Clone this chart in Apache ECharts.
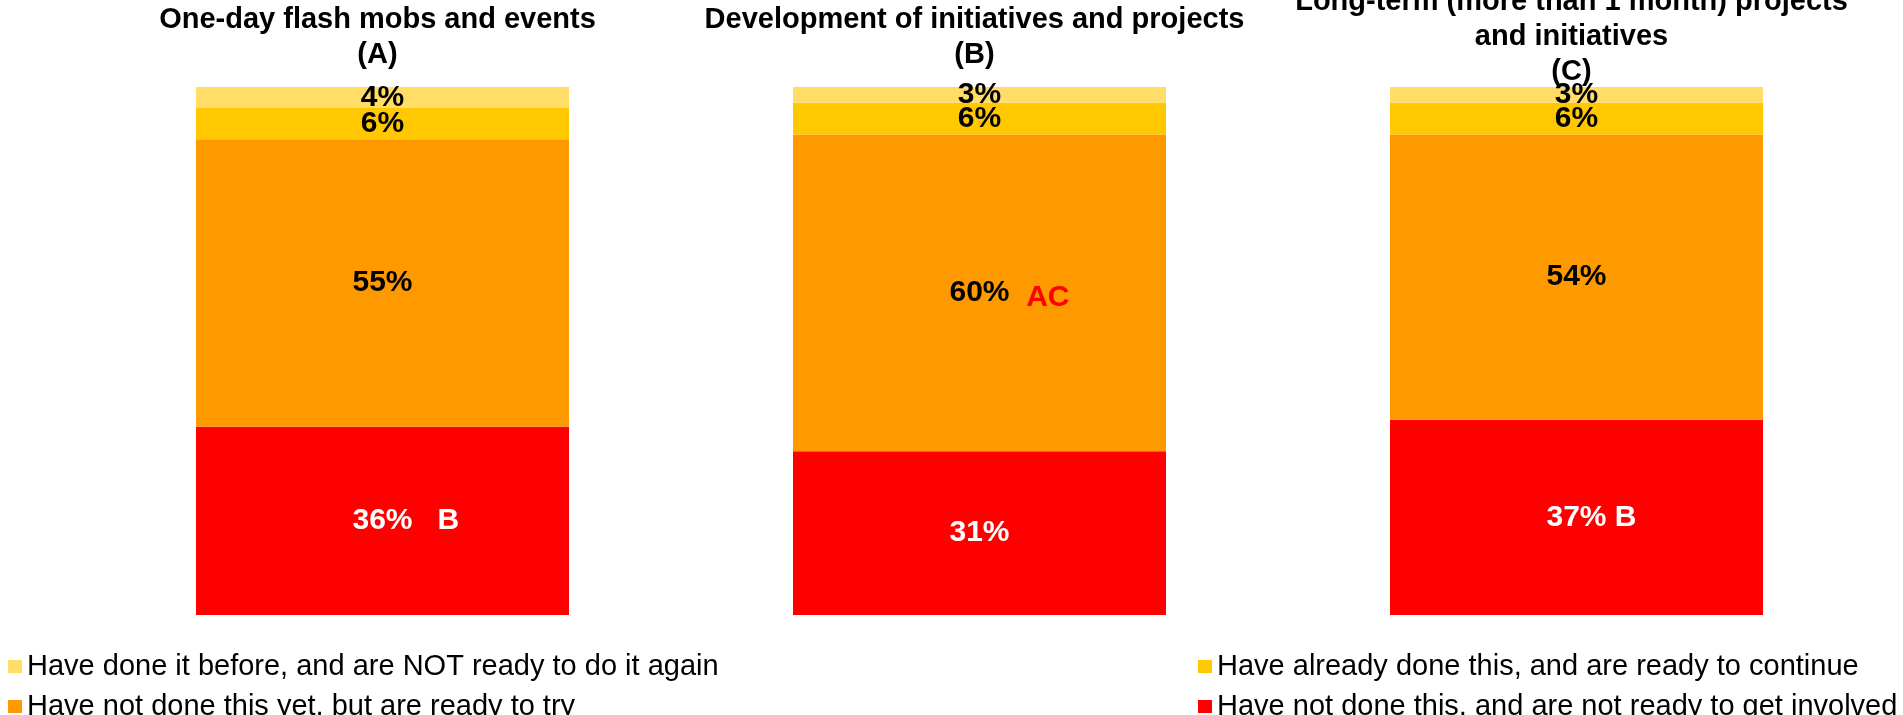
<!DOCTYPE html>
<html>
<head>
<meta charset="utf-8">
<style>
  html, body { margin: 0; padding: 0; background: #ffffff; }
  #chart { width: 1903px; height: 715px; }
</style>
<script src="https://cdn.jsdelivr.net/npm/echarts@6/dist/echarts.min.js"></script>
</head>
<body>
<div id="chart"></div>
<script>
// Survey categories (panel titles A, B, C)
const categories = [
  'One-day flash mobs and events\n(A)',
  'Development of initiatives and projects\n(B)',
  'Long-term (more than 1 month) projects\nand initiatives\n(C)'
];

// Answer groups, in stacking order from the bottom up
const seriesNames = [
  'Have not done this, and are not ready to get involved',
  'Have not done this yet, but are ready to try',
  'Have already done this, and are ready to continue',
  'Have done it before, and are NOT ready to do it again'
];

// Percentages per category
const notReady        = [36, 31, 37];
const readyToTry      = [55, 60, 54];
const readyToContinue = [6, 6, 6];
const notAgain        = [4, 3, 3];

// Significance letters shown after some values
const notReadySig   = ['   B', '', ' B'];
const readyToTrySig = ['', '  AC', ''];

const FONT = '"Liberation Sans", Arial, Helvetica, sans-serif';
const LABEL_SIZE = 30;

// Each column is drawn as a 100% stack of its own answers
const totals = categories.map((_, i) =>
  notReady[i] + readyToTry[i] + readyToContinue[i] + notAgain[i]);
const share = arr => arr.map((v, i) => v / totals[i] * 100);

// Width of a bold label fragment, used to keep the percentage centred
const measureCtx = document.createElement('canvas').getContext('2d');
function boldWidth(text) {
  measureCtx.font = 'bold ' + LABEL_SIZE + 'px ' + FONT;
  return measureCtx.measureText(text).width;
}

function makeSeries(name, values, color, textColor, sig, sigColor, sigLower) {
  const rich = {
    v: { fontFamily: FONT, fontSize: LABEL_SIZE, fontWeight: 'bold', color: textColor, lineHeight: 40 },
    s: { fontFamily: FONT, fontSize: LABEL_SIZE, fontWeight: 'bold', color: sigColor || textColor,
         lineHeight: 40, verticalAlign: sigLower ? 'bottom' : 'middle' }
  };
  if (sig) {
    sig.forEach((s, i) => {
      if (s) rich['pad' + i] = { width: boldWidth(s), fontSize: LABEL_SIZE, lineHeight: 40 };
    });
  }
  return {
    name: name,
    type: 'bar',
    stack: 'total',
    barWidth: 373,
    data: share(values),
    itemStyle: { color: color },
    label: {
      show: true,
      position: 'inside',
      fontFamily: FONT,
      formatter: p => {
        const txt = '{v|' + values[p.dataIndex] + '%}';
        const s = sig ? sig[p.dataIndex] : '';
        return s ? '{pad' + p.dataIndex + '| }' + txt + '{s|' + s + '}' : txt;
      },
      rich: rich
    }
  };
}

const legendText = { fontFamily: FONT, fontSize: 29, lineHeight: 29, color: '#000000' };

const chart = echarts.init(document.getElementById('chart'), null, { renderer: 'canvas' });

chart.setOption({
  animation: false,
  backgroundColor: '#ffffff',
  grid: { left: 84, right: 28, top: 87, bottom: 100, outerBoundsMode: 'none' },
  xAxis: {
    type: 'category',
    position: 'top',
    data: categories,
    axisLine: { show: false },
    axisTick: { show: false },
    axisLabel: {
      interval: 0,
      margin: 50,
      verticalAlign: 'middle',
      padding: [0, 10, 0, 0],
      fontFamily: FONT,
      fontSize: 29,
      fontWeight: 'bold',
      lineHeight: 35,
      color: '#000000'
    }
  },
  yAxis: { type: 'value', min: 0, max: 100, show: false },
  legend: [
    {
      left: 3, top: 647, height: 120, orient: 'vertical',
      data: [seriesNames[3], seriesNames[1]],
      icon: 'rect', itemWidth: 14, itemHeight: 13, itemGap: 11,
      selectedMode: false,
      textStyle: legendText
    },
    {
      left: 1193, top: 647, height: 120, orient: 'vertical',
      data: [seriesNames[2], seriesNames[0]],
      icon: 'rect', itemWidth: 14, itemHeight: 13, itemGap: 11,
      selectedMode: false,
      textStyle: legendText
    }
  ],
  series: [
    makeSeries(seriesNames[0], notReady, '#FF0000', '#FFFFFF', notReadySig, '#FFFFFF', false),
    makeSeries(seriesNames[1], readyToTry, '#FF9900', '#000000', readyToTrySig, '#FF0000', true),
    makeSeries(seriesNames[2], readyToContinue, '#FFC800', '#000000'),
    makeSeries(seriesNames[3], notAgain, '#FFDD66', '#000000')
  ]
});
</script>
</body>
</html>
